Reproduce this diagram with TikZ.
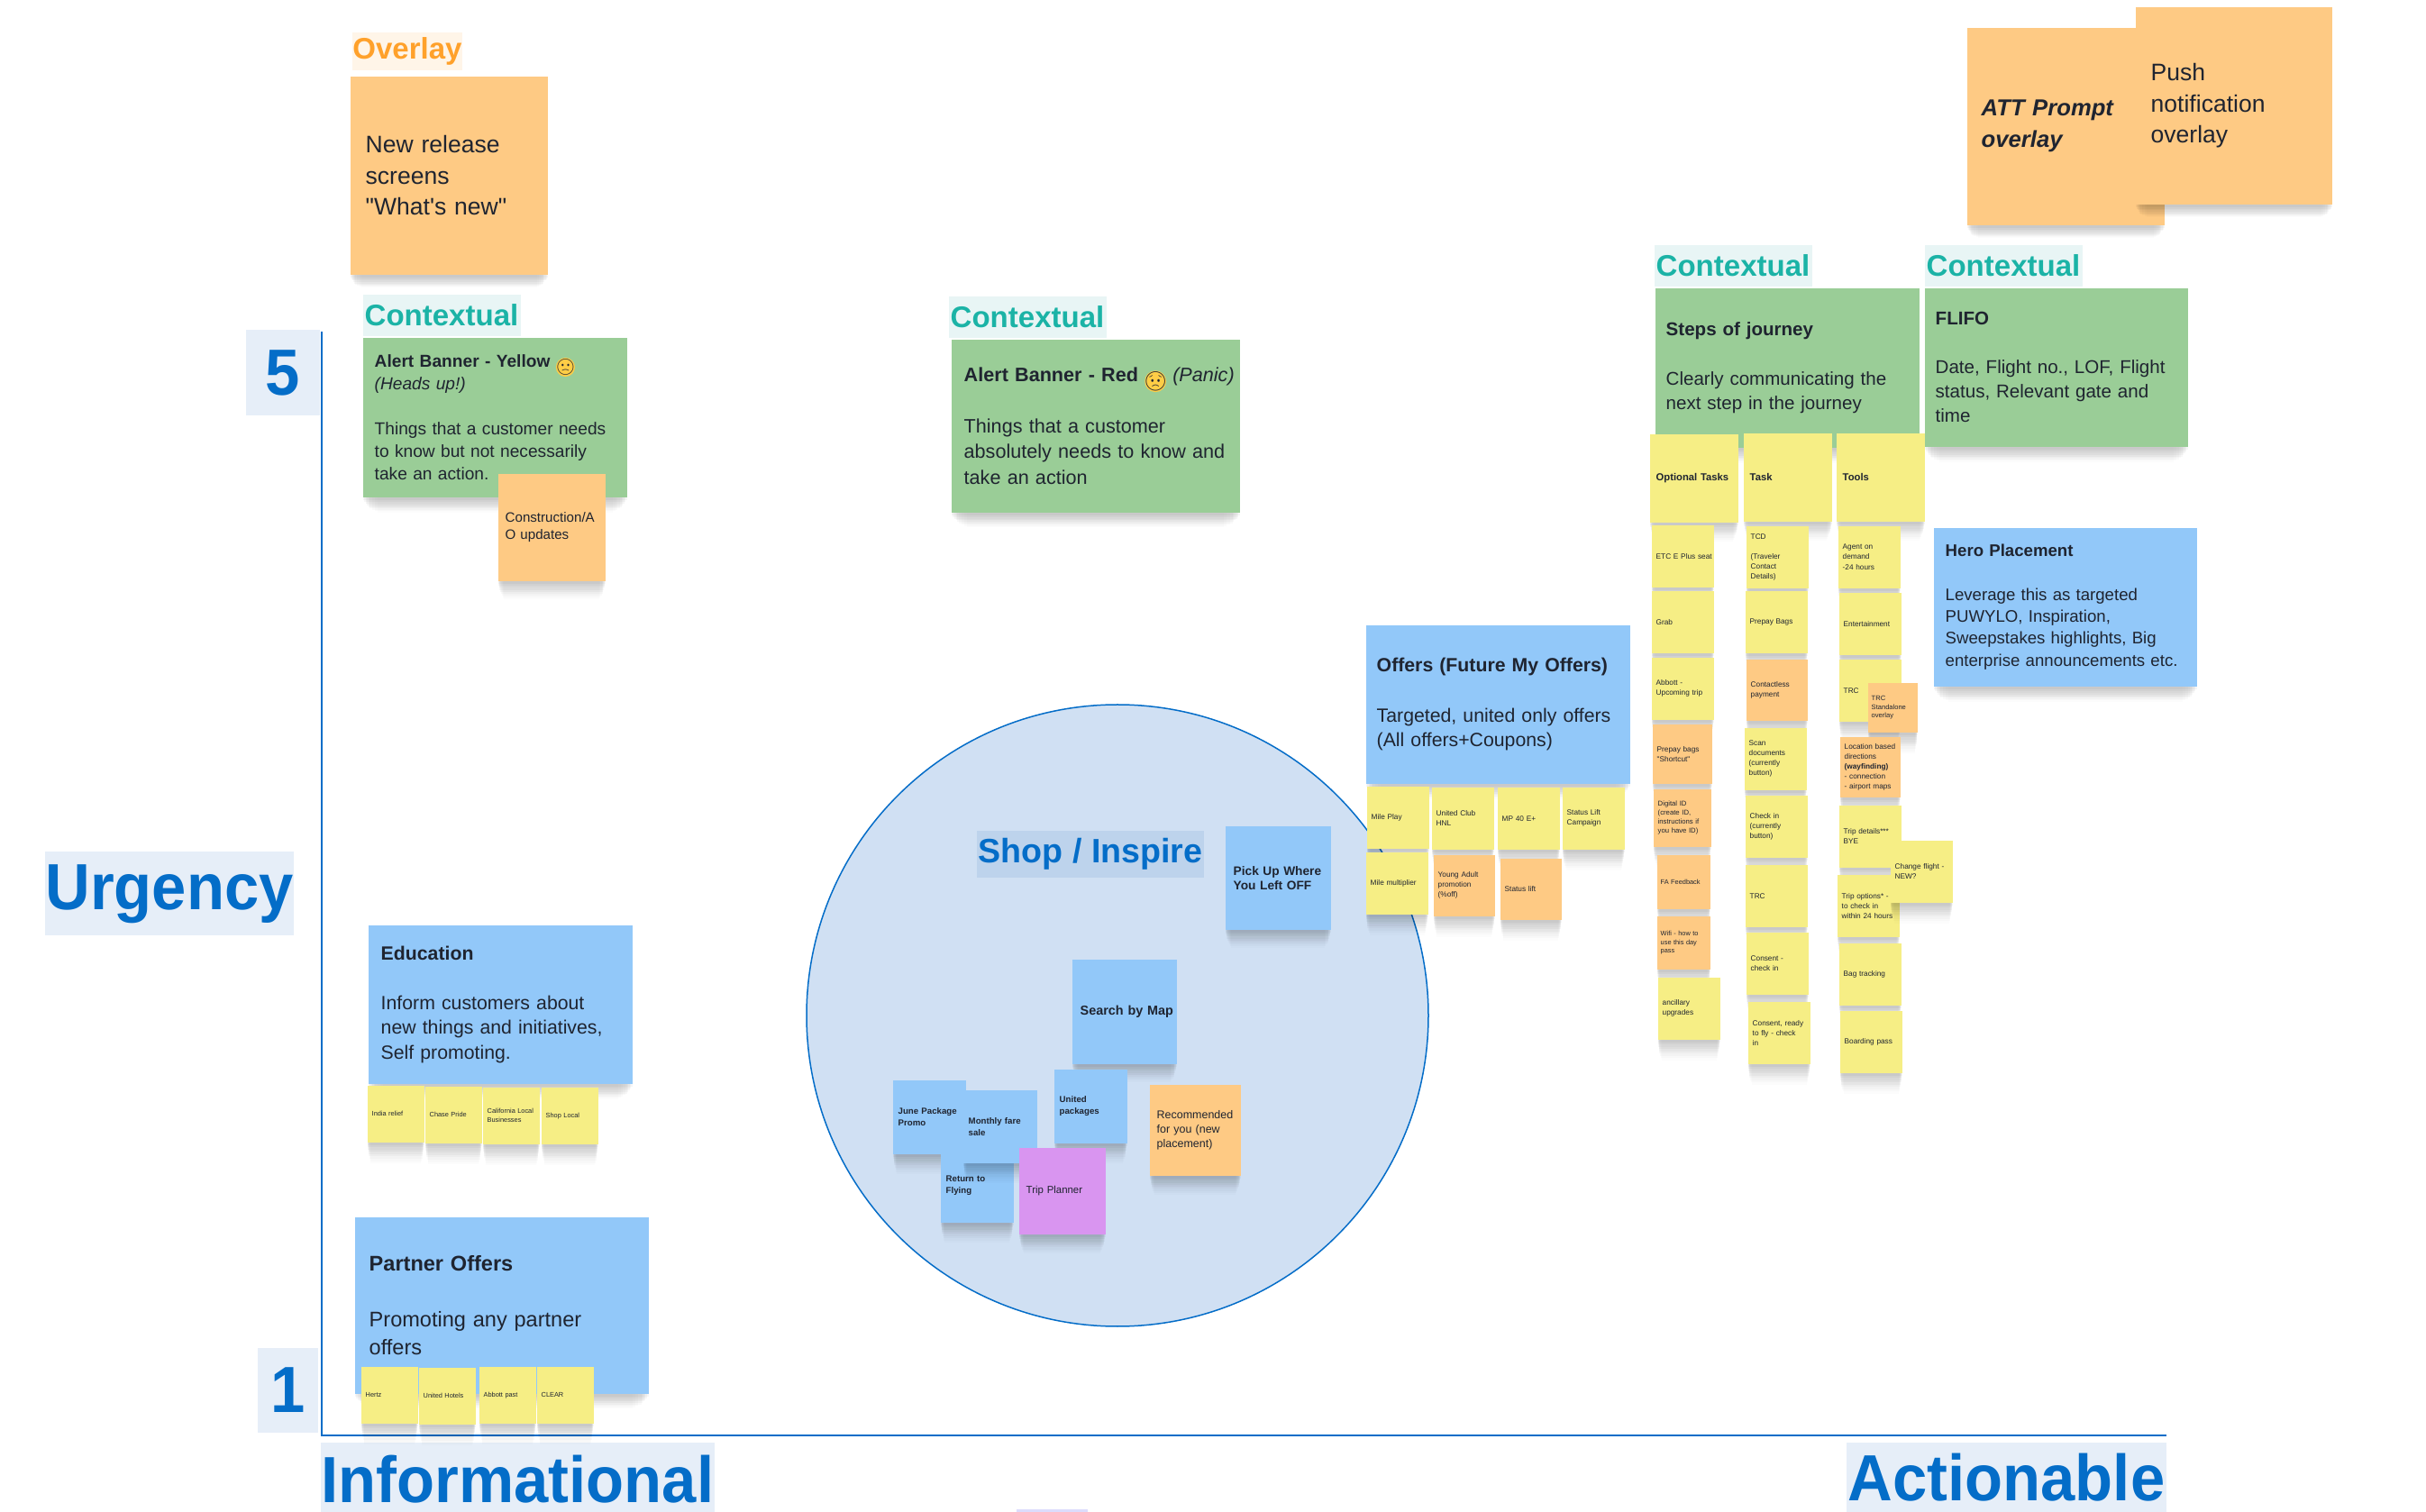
\documentclass[tikz,border=0pt]{standalone}
\usepackage{fontspec}
\setmainfont{Liberation Sans}[Ligatures=TeXOff]
\newfontfamily\axisfont{Liberation Sans}[FakeStretch=.95]
\newfontfamily\emojifont{Noto Emoji}
\usetikzlibrary{shadows,positioning}
\hyphenpenalty=10000

\definecolor{noteyellow}{RGB}{246,238,133}
\definecolor{noteorange}{RGB}{254,202,132}
\definecolor{noteblue}{RGB}{146,200,249}
\definecolor{notegreen}{RGB}{154,205,151}
\definecolor{notepurple}{RGB}{217,149,240}
\definecolor{notetext}{RGB}{31,36,48}
\definecolor{headblue}{RGB}{4,109,200}
\definecolor{headteal}{RGB}{27,179,166}
\definecolor{headorange}{RGB}{255,161,43}
\definecolor{markblue}{RGB}{230,238,248}
\definecolor{markteal}{RGB}{232,245,245}
\definecolor{markorange}{RGB}{255,245,232}
\definecolor{markshop}{RGB}{189,211,236}
\definecolor{circleblue}{RGB}{208,224,243}
\definecolor{facelilac}{RGB}{220,220,252}
\definecolor{faceyellow}{RGB}{255,205,70}

\tikzset{
  softshadow/.style={
    general shadow={fill=black,opacity=.035,shadow yshift=-.03cm,shadow scale=1},
    general shadow={fill=black,opacity=.035,shadow yshift=-.06cm,shadow scale=.99},
    general shadow={fill=black,opacity=.035,shadow yshift=-.09cm,shadow scale=.98},
    general shadow={fill=black,opacity=.03,shadow yshift=-.12cm,shadow scale=.97},
    general shadow={fill=black,opacity=.03,shadow yshift=-.15cm,shadow scale=.96},
    general shadow={fill=black,opacity=.025,shadow yshift=-.18cm,shadow scale=.95},
    general shadow={fill=black,opacity=.02,shadow yshift=-.22cm,shadow scale=.93},
    general shadow={fill=black,opacity=.015,shadow yshift=-.26cm,shadow scale=.91},
    general shadow={fill=black,opacity=.01,shadow yshift=-.30cm,shadow scale=.89}},
  sticky/.style={rectangle,anchor=north west,inner sep=0pt,align=left,text=notetext,softshadow},
  box/.style n args={3}{minimum width=#1cm,minimum height=#2cm,text width=#1cm-2*#3cm},
  fs/.style 2 args={font=\fontsize{#1}{#2}\selectfont},
  yellownote/.style={sticky,fill=noteyellow},
  orangenote/.style={sticky,fill=noteorange},
  bluenote/.style={sticky,fill=noteblue},
  greennote/.style={sticky,fill=notegreen},
  purplenote/.style={sticky,fill=notepurple},
  colnote/.style={box={.69}{.69}{.05},fs={2.35}{3.15}},
  chipnote/.style={box={.63}{.63}{.05},fs={2.1}{2.85}},
  headlabel/.style={rectangle,inner sep=0pt,font=\fontsize{#1}{#1}\selectfont\bfseries},
  axislabel/.style={rectangle,inner sep=0pt,fill=markblue,text=headblue,font=\axisfont\fontsize{20.6}{20.6}\selectfont\bfseries},
  axisline/.style={draw=headblue,line width=.025cm},
}
\newcommand{\emojiface}[2]{\smash{\tikz[baseline=-.8ex]\node[circle,fill=faceyellow,inner sep=0pt,minimum size=1.1em]{\makebox[0pt]{\fontsize{#2}{#2}\emojifont #1}};}}

\begin{document}
\begin{tikzpicture}[x=1cm,y=-1cm]
\useasboundingbox (0,0) rectangle (26.92,16.78);

% axes
\path (3.14,4.14) node[axislabel,minimum width=.82cm,minimum height=.95cm] (five) {5};
\path (3.195,15.43) node[axislabel,minimum width=.67cm,minimum height=.94cm] (one) {1};
\path (1.88,9.92) node[axislabel,minimum width=2.76cm,minimum height=.93cm] (urgency) {Urgency};
\path (5.745,16.42) node[axislabel,minimum width=4.37cm,minimum height=.82cm] (informational) {Informational};
\path (22.265,16.40) node[axislabel,minimum width=3.55cm,minimum height=.78cm] (actionable) {Actionable};
\coordinate (axtop) at (3.57,3.68);
\coordinate (axorigin) at (3.57,15.93);
\coordinate (axright) at (24.04,15.93);
\draw[axisline] (axtop) -- (axorigin) -- (axright);
\fill[facelilac] (11.28,16.75) rectangle (12.07,16.78);

% shop circle
\path (12.40,11.27) node[circle,draw=headblue,line width=.015cm,fill=circleblue,minimum size=6.9cm,inner sep=0pt] (shopcircle) {};
\path (12.10,9.48) node[fill=markshop,minimum width=2.52cm,minimum height=.52cm,headlabel=10.7,text=headblue] (shoplabel) {Shop / Inspire};

\path (13.59,9.16) node[bluenote,box={1.17}{1.15}{.09},fs={3.9}{4.6}] (pickup) {\textbf{Pick Up Where}\\\textbf{You Left OFF}};
\path (11.89,10.64) node[bluenote,box={1.16}{1.16}{.09},fs={4.1}{4.9}] (searchmap) {\mbox{\textbf{Search by Map}}};
\path (9.90,11.98) node[bluenote,box={.81}{.82}{.06},fs={2.75}{3.7}] (junepromo) {\textbf{June Package}\\\textbf{Promo}};
\path (11.69,11.86) node[bluenote,box={.81}{.82}{.06},fs={2.75}{3.7}] (unitedpack) {\textbf{United}\\\textbf{packages}};
\path (10.43,12.74) node[bluenote,box={.81}{.82}{.06},fs={2.75}{3.7}] (returnfly) {\textbf{Return to}\\\textbf{Flying}};
\path (10.68,12.09) node[bluenote,box={.82}{.81}{.06},fs={2.75}{3.7}] (monthlyfare) {\textbf{Monthly fare}\\\textbf{sale}};
\path (11.30,12.73) node[purplenote,box={.96}{.96}{.08},fs={3.25}{4.1}] (tripplanner) {Trip Planner};
\path (12.75,12.03) node[orangenote,box={1.01}{1.01}{.08},fs={3.55}{4.5}] (recommended) {Recommended\\for you (new\\placement)};

% overlays
\path (4.52,.57) node[fill=markorange,minimum width=1.22cm,minimum height=.42cm,headlabel=9.4,text=headorange] (overlaylabel) {Overlay};
\path (3.88,.84) node[orangenote,box={2.19}{2.20}{.17},fs={7.55}{9.9}] (newrelease) {New release\\screens\\"What's new"};
\path (21.82,.30) node[orangenote,box={2.19}{2.19}{.16},fs={7.3}{9.9}] (attprompt) {\textbf{\textit{ATT Prompt}}\\\textbf{\textit{overlay}}};
\path (23.69,.07) node[orangenote,box={2.18}{2.19}{.17},fs={7.55}{9.9}] (pushnote) {Push\\notification\\overlay};

% contextual
\path (4.90,3.50) node[fill=markteal,minimum width=1.75cm,minimum height=.46cm,headlabel=9.4,text=headteal] (contextone) {Contextual};
\path (4.02,3.74) node[greennote,box={2.93}{1.77}{.13},fs={5.45}{7.1}] (alertyellow) {\textbf{Alert Banner - Yellow} \emojiface{🙁}{5}\\\textit{(Heads up!)}\\\mbox{}\\Things that a customer needs\\to know but not necessarily\\take an action.};
\path (5.52,5.25) node[orangenote,box={1.19}{1.19}{.08},fs={4.3}{5.4}] (construction) {Construction/A\\O updates};

\path (11.40,3.52) node[fill=markteal,minimum width=1.75cm,minimum height=.46cm,headlabel=9.4,text=headteal] (contexttwo) {Contextual};
\path (10.55,3.76) node[greennote,box={3.20}{1.92}{.14},fs={6.15}{8.1}] (alertred) {\mbox{\textbf{Alert Banner - Red} \emojiface{😟}{6} \textit{(Panic)}}\\\mbox{}\\Things that a customer\\\mbox{absolutely needs to know and}\\take an action};

\path (19.23,2.95) node[fill=markteal,minimum width=1.75cm,minimum height=.46cm,headlabel=9.4,text=headteal] (contextthree) {Contextual};
\path (22.23,2.95) node[fill=markteal,minimum width=1.75cm,minimum height=.46cm,headlabel=9.4,text=headteal] (contextfour) {Contextual};
\path (18.36,3.19) node[greennote,box={2.93}{1.77}{.12},fs={5.85}{7.7}] (stepsjourney) {\textbf{Steps of journey}\\\mbox{}\\Clearly communicating the\\next step in the journey};
\path (21.35,3.19) node[greennote,box={2.92}{1.76}{.12},fs={5.85}{7.7}] (flifo) {\textbf{FLIFO}\\\mbox{}\\\mbox{Date, Flight no., LOF, Flight}\\status, Relevant gate and\\time};
\path (21.45,5.85) node[bluenote,box={2.92}{1.76}{.13},fs={5.3}{6.9}] (heroplace) {\textbf{Hero Placement}\\\mbox{}\\Leverage this as targeted\\PUWYLO, Inspiration,\\Sweepstakes highlights, Big\\\mbox{enterprise announcements etc.}};

% offers
\path (15.15,6.93) node[bluenote,box={2.93}{1.76}{.12},fs={6.05}{7.9}] (offers) {\textbf{Offers (Future My Offers)}\\\mbox{}\\Targeted, united only offers\\(All offers+Coupons)};
\path (15.16,8.72) node[yellownote,colnote] (mileplay) {Mile Play};
\path (15.88,8.73) node[yellownote,colnote] (unitedclub) {United Club\\HNL};
\path (16.61,8.73) node[yellownote,colnote] (mpforty) {MP 40 E+};
\path (17.33,8.73) node[yellownote,colnote] (statuscamp) {Status Lift\\Campaign};
\path (15.15,9.45) node[yellownote,colnote] (milemulti) {\mbox{Mile multiplier}};
\path (15.90,9.48) node[orangenote,box={.68}{.68}{.05},fs={2.35}{3.15}] (youngadult) {Young Adult\\promotion\\(\%off)};
\path (16.64,9.52) node[orangenote,box={.68}{.68}{.05},fs={2.35}{3.15}] (statuslift) {Status lift};

% education and partners
\path (4.08,10.26) node[bluenote,box={2.93}{1.76}{.14},fs={6.05}{7.8}] (education) {\textbf{Education}\\\mbox{}\\Inform customers about\\\mbox{new things and initiatives,}\\Self promoting.};
\path (4.07,12.04) node[yellownote,chipnote] (indiarelief) {India relief};
\path (4.71,12.05) node[yellownote,chipnote] (chasepride) {Chase Pride};
\path (5.35,12.06) node[yellownote,chipnote] (califlocal) {\mbox{California Local}\\Businesses};
\path (6.00,12.06) node[yellownote,chipnote] (shoplocal) {Shop Local};
\path (3.93,13.50) node[bluenote,box={3.26}{1.96}{.16},fs={6.7}{8.8}] (partner) {\textbf{Partner Offers}\\\mbox{}\\Promoting any partner\\offers};
\path (4.00,15.16) node[yellownote,chipnote] (hertz) {Hertz};
\path (4.64,15.17) node[yellownote,chipnote] (unitedhotels) {\mbox{United Hotels}};
\path (5.31,15.16) node[yellownote,chipnote] (abbottpast) {Abbott past};
\path (5.95,15.16) node[yellownote,chipnote] (clear) {CLEAR};

% journey columns
\path (18.30,4.81) node[yellownote,box={.98}{.98}{.07},fs={3.2}{3.8}] (optional) {\textbf{Optional Tasks}};
\path (19.34,4.80) node[yellownote,box={.98}{.98}{.07},fs={3.2}{3.8}] (task) {\textbf{Task}};
\path (20.37,4.80) node[yellownote,box={.98}{.98}{.07},fs={3.2}{3.8}] (tools) {\textbf{Tools}};

\path (18.32,5.82) node[yellownote,colnote] (etcplus) {\mbox{ETC E Plus seat}};
\path (18.32,6.55) node[yellownote,colnote] (grab) {Grab};
\path (18.32,7.29) node[yellownote,colnote] (abbott) {Abbott -\\\mbox{Upcoming trip}};
\path (18.33,8.03) node[orangenote,box={.66}{.66}{.05},fs={2.35}{3.15}] (prepayshort) {Prepay bags\\"Shortcut"};
\path (18.34,8.75) node[orangenote,box={.64}{.64}{.05},fs={2.2}{2.85}] (digitalid) {Digital ID\\(create ID,\\\mbox{instructions if}\\you have ID)};
\path (18.38,9.48) node[orangenote,box={.59}{.60}{.04},fs={2.1}{2.8}] (fafeedback) {FA Feedback};
\path (18.38,10.16) node[orangenote,box={.59}{.59}{.04},fs={2.1}{2.8}] (wifipass) {Wifi - how to\\use this day\\pass};
\path (18.39,10.84) node[yellownote,colnote] (ancillary) {ancillary\\upgrades};

\path (19.37,5.83) node[yellownote,colnote] (tcd) {TCD\\\mbox{}\\(Traveler\\Contact\\Details)};
\path (19.36,6.55) node[yellownote,colnote] (prepaybags) {Prepay Bags};
\path (19.37,7.31) node[orangenote,box={.68}{.68}{.05},fs={2.35}{3.15}] (contactless) {Contactless\\payment};
\path (19.35,8.07) node[yellownote,colnote] (scandocs) {Scan\\documents\\(currently\\button)};
\path (19.36,8.82) node[yellownote,colnote] (checkin) {Check in\\(currently\\button)};
\path (19.36,9.59) node[yellownote,colnote] (trctask) {TRC};
\path (19.37,10.34) node[yellownote,colnote] (consentcheck) {Consent -\\check in};
\path (19.39,11.11) node[yellownote,colnote] (consentready) {\mbox{Consent, ready}\\to fly - check\\in};

\path (20.39,5.83) node[yellownote,colnote] (agentdemand) {Agent on\\demand\\-24 hours};
\path (20.40,6.57) node[yellownote,colnote] (entertain) {Entertainment};
\path (20.40,7.31) node[yellownote,colnote] (trctool) {TRC};
\path (20.72,7.57) node[orangenote,box={.55}{.55}{.04},fs={2.15}{2.6}] (trcoverlay) {TRC\\Standalone\\overlay};
\path (20.41,8.17) node[orangenote,box={.67}{.67}{.05},fs={2.35}{3.1}] (location) {\mbox{Location based}\\directions\\\textbf{(wayfinding)}\\- connection\\- airport maps};
\path (20.40,8.93) node[yellownote,colnote] (tripdetails) {\mbox{Trip details***}\\BYE};
\path (20.38,9.70) node[yellownote,colnote] (tripoptions) {\mbox{Trip options* -}\\to check in\\\mbox{within 24 hours}};
\path (20.97,9.32) node[yellownote,colnote] (changeflight) {\mbox{Change flight -}\\NEW?};
\path (20.40,10.46) node[yellownote,colnote] (bagtrack) {Bag tracking};
\path (20.41,11.21) node[yellownote,colnote] (boarding) {\mbox{Boarding pass}};
\end{tikzpicture}
\end{document}
